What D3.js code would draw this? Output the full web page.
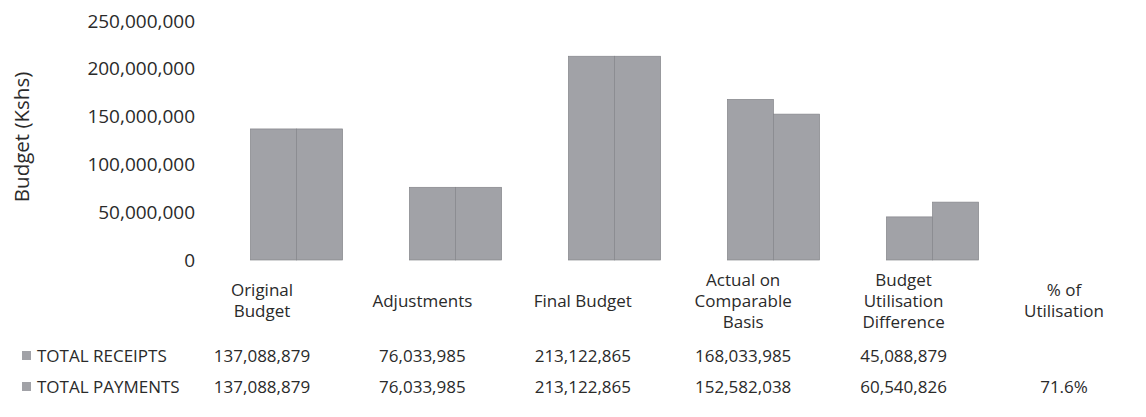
<!DOCTYPE html>
<html>
<head>
<meta charset="utf-8">
<script src="https://cdn.jsdelivr.net/npm/d3@7"></script>
<style>
  body { margin: 0; background: #fff; }
  text { font-family: "Open Sans", "Noto Sans", sans-serif; fill: #2a2a2a; }
</style>
</head>
<body>
<svg id="chart" width="1146" height="417"></svg>
<script>
// chart data
var categories = ["Original Budget", "Adjustments", "Final Budget", "Actual on Comparable Basis", "Budget Utilisation Difference"];
var headerLines = [["Original", "Budget"], ["Adjustments"], ["Final Budget"], ["Actual on", "Comparable", "Basis"], ["Budget", "Utilisation", "Difference"], ["% of", "Utilisation"]];
var seriesNames = ["TOTAL RECEIPTS", "TOTAL PAYMENTS"];
var receipts = [137088879, 76033985, 213122865, 168033985, 45088879];
var payments = [137088879, 76033985, 213122865, 152582038, 60540826];
var utilisation = ["", "71.6%"];
var yTicks = [0, 50000000, 100000000, 150000000, 200000000, 250000000];

var svg = d3.select("#chart");
var barColor = "#a1a2a7", edgeColor = "#85868b";

// scales
var y = d3.scaleLinear().domain([0, 250000000]).range([260, 21]);
var x = d3.scaleBand().domain(categories).range([217, 1012]).paddingInner(0.42).paddingOuter(0.21);
var xs = d3.scaleBand().domain(seriesNames).range([0, x.bandwidth()]);
// data table columns (five categories plus the % column)
var tableCols = categories.concat(["% of Utilisation"]);
var xt = d3.scalePoint().domain(tableCols).range([262, 1064]);

// y axis labels
var yAxis = svg.append("g").attr("transform", "translate(195,0)")
  .call(d3.axisLeft(y).tickValues(yTicks).tickSize(0).tickPadding(0).tickFormat(d3.format(",")));
yAxis.select(".domain").remove();
yAxis.selectAll("text").style("font-size", "19px").style("font-family", "'Open Sans', sans-serif").attr("fill", "#2a2a2a");

svg.append("text")
  .attr("transform", "translate(22,137) rotate(-90)")
  .attr("text-anchor", "middle").attr("dy", "0.35em")
  .style("font-size", "20.5px")
  .text("Budget (Kshs)");

// bars
var seriesVals = [receipts, payments];
var groups = svg.selectAll("g.cat").data(categories).enter().append("g")
  .attr("class", "cat")
  .attr("transform", function(d) { return "translate(" + x(d) + ",0)"; });

groups.selectAll("rect").data(function(d, i) {
    return seriesNames.map(function(s, j) { return {s: s, v: seriesVals[j][i]}; });
  }).enter().append("rect")
  .attr("x", function(d) { return xs(d.s); })
  .attr("y", function(d) { return y(d.v); })
  .attr("width", xs.bandwidth())
  .attr("height", function(d) { return y(0) - y(d.v); })
  .attr("fill", barColor)
  .attr("stroke", edgeColor)
  .attr("stroke-width", 0.7);

// data table header
var lh = 21;
svg.selectAll("g.head").data(tableCols).enter().append("g")
  .attr("class", "head")
  .each(function(d, i) {
    var lines = headerLines[i];
    var top = 301 - (lines.length - 1) * lh / 2;
    d3.select(this).selectAll("text").data(lines).enter().append("text")
      .attr("x", xt(d))
      .attr("y", function(l, k) { return top + k * lh; })
      .attr("dy", "0.35em")
      .attr("text-anchor", "middle")
      .style("font-size", "17px")
      .text(function(l) { return l; });
  });

// data table rows
var rowY = d3.scalePoint().domain(seriesNames).range([356, 387]);
var fmt = d3.format(",");
seriesNames.forEach(function(s, j) {
  var row = svg.append("g");
  row.append("rect")
    .attr("x", 22).attr("y", rowY(s) - 5)
    .attr("width", 9).attr("height", 9)
    .attr("fill", barColor);
  row.append("text")
    .attr("x", 37).attr("y", rowY(s)).attr("dy", "0.35em")
    .style("font-size", "17px")
    .text(s);
  row.selectAll("text.val").data(seriesVals[j]).enter().append("text")
    .attr("class", "val")
    .attr("x", function(d, i) { return xt(categories[i]); })
    .attr("y", rowY(s)).attr("dy", "0.35em")
    .attr("text-anchor", "middle")
    .style("font-size", "17px")
    .text(function(d) { return fmt(d); });
  row.append("text")
    .attr("x", xt("% of Utilisation")).attr("y", rowY(s)).attr("dy", "0.35em")
    .attr("text-anchor", "middle")
    .style("font-size", "17px")
    .text(utilisation[j]);
});
</script>
</body>
</html>
